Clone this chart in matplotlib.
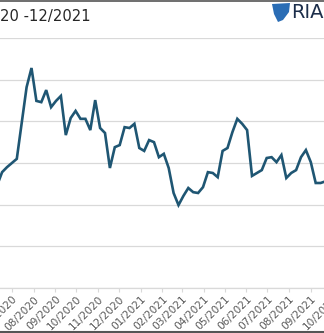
import datetime as dt

import matplotlib
matplotlib.use("Agg")
import matplotlib.dates as mdates
import matplotlib.pyplot as plt
from matplotlib.patches import Polygon

# weekly series, first point just off the left edge of the crop
start_date = dt.date(2020, 6, 10)
values = [
    24.7, 27.8, 29.0, 30.0, 31.0, 39.6, 48.2, 52.8, 44.9, 44.6,
    47.5, 43.4, 44.9, 46.1, 36.7, 40.8, 42.5, 40.6, 40.6, 37.9,
    45.1, 38.4, 37.2, 28.8, 33.8, 34.3, 38.6, 38.4, 39.4, 33.6,
    32.9, 35.5, 35.0, 31.4, 32.2, 28.8, 22.8, 19.9, 22.1, 24.0,
    23.0, 22.8, 24.2, 27.8, 27.6, 26.6, 32.9, 33.6, 37.4, 40.6,
    39.4, 37.9, 26.9, 27.6, 28.3, 31.2, 31.4, 30.2, 31.9, 26.4,
    27.6, 28.3, 31.4, 33.1, 30.2, 25.2, 25.2, 25.6,
]
dates = [start_date + dt.timedelta(weeks=i) for i in range(len(values))]

y_ticks = [0, 10, 20, 30, 40, 50, 60]
# the plot area runs a little past the right edge of the crop
view_start = dt.date(2020, 6, 14)
view_end = dt.date(2021, 10, 7)

title_text = "20 -12/2021"
logo_text = "RIA"

line_color = "#1f5673"
grid_color = "#d9d9d9"
label_color = "#595959"

fig = plt.figure(figsize=(3.24, 3.33), dpi=100)
ax = fig.add_axes([0.0, 45 / 333, 336 / 324, 250 / 333])

ax.plot(dates, values, color=line_color, linewidth=1.9, solid_joinstyle="miter")

ax.set_xlim(view_start, view_end)
ax.set_ylim(y_ticks[0], y_ticks[-1])
ax.set_yticks(y_ticks)
ax.yaxis.grid(True, color=grid_color, linewidth=0.9)
ax.set_axisbelow(True)
ax.tick_params(axis="y", left=False, labelleft=False)

ax.xaxis.set_major_locator(mdates.MonthLocator())
ax.xaxis.set_major_formatter(mdates.DateFormatter("%m/%Y"))
ax.tick_params(axis="x", direction="out", length=3, width=0.8, color=grid_color,
               labelsize=7.6, labelcolor=label_color, pad=1.5)
for lbl in ax.get_xticklabels():
    lbl.set_rotation(45)
    lbl.set_ha("right")
    lbl.set_va("top")
    lbl.set_rotation_mode("anchor")

for side in ["left", "right", "top"]:
    ax.spines[side].set_visible(False)
ax.spines["bottom"].set_color(grid_color)
ax.spines["bottom"].set_linewidth(0.9)

# header text and logo
fig.text(0.0, 1 - 17 / 333, title_text, ha="left", va="center", fontsize=10.6,
         color="#262626")
fig.text(291 / 324, 1 - 12 / 333, logo_text, ha="left", va="center", fontsize=14,
         color="#1c2e4a")
shield = Polygon([(272 / 324, 1 - 4 / 333), (290 / 324, 1 - 3 / 333), (289 / 324, 1 - 12 / 333),
                  (283 / 324, 1 - 20 / 333), (278 / 324, 1 - 22 / 333), (274 / 324, 1 - 14 / 333)],
                 closed=True, transform=fig.transFigure, facecolor="#2a6db5", edgecolor="none")
fig.add_artist(shield)

# image frame lines at top and bottom
fig.add_artist(plt.Line2D([0, 1], [1 - 0.5 / 333, 1 - 0.5 / 333], transform=fig.transFigure,
                          color="#555555", linewidth=1.2))
fig.add_artist(plt.Line2D([0, 1], [1.5 / 333, 1.5 / 333], transform=fig.transFigure,
                          color="#555555", linewidth=1.5))

fig.savefig("out.png", dpi=100)
